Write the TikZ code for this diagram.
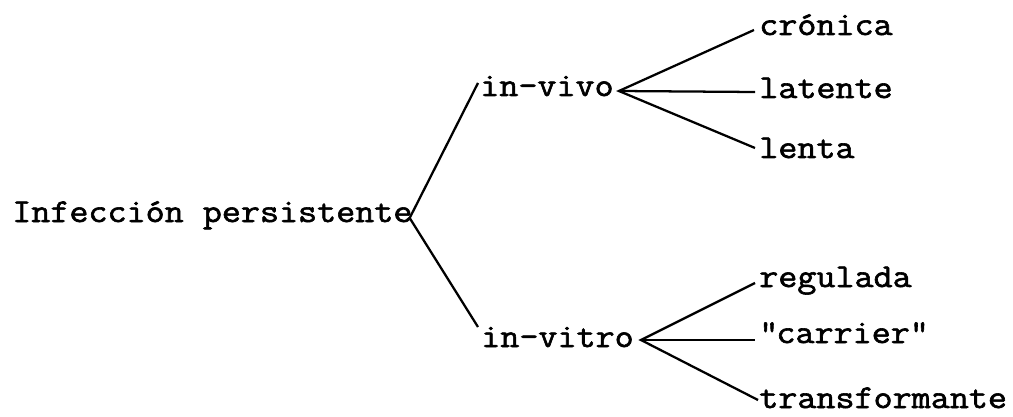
\documentclass[tikz,border=0pt]{standalone}
\usepackage{fontspec}
\newfontfamily\typewr{Latin Modern Mono}[FakeBold=1.8, FakeStretch=1.11]
\usepackage{tikz}
\usetikzlibrary{calc}

\begin{document}
\begin{tikzpicture}[x=0.75pt,y=-0.75pt,
  term/.style={inner sep=0pt, anchor=base west, font=\typewr\fontsize{25}{29}\selectfont},
  branch/.style={line width=1.7pt, line join=miter}]
\useasboundingbox (0,0) rectangle (1013,417);

\node [term] (root) at (12,222) {Infección persistente};
\node [term] (invivo) at (480,96) {in-vivo};
\node [term] (invitro) at (481,347) {in-vitro};

\node [term] (cronica) at (759,35) {crónica};
\node [term] (latente) at (759,98) {latente};
\node [term] (lenta) at (759,158) {lenta};
\node [term] (regulada) at (759,287) {regulada};
\node [term] (carrier) at (759,343) {\textquotedbl carrier\textquotedbl};
\node [term] (transf) at (759,408) {transformante};

\coordinate (rootv) at ($(root.base east)+(-3,-4)$);
\coordinate (vivov) at ($(invivo.base east)+(5,-5)$);
\coordinate (vitrov) at ($(invitro.base east)+(7,-7)$);

\draw[branch] ($(invivo.base west)+(-2,-13)$) -- (rootv) -- ($(invitro.base west)+(-3,-20)$);

\draw[branch] ($(cronica.base west)+(-5,-5)$) -- (vivov) -- ($(lenta.base west)+(-4,-10)$);
\draw[branch] (vivov) -- ($(latente.base west)+(-4,-6)$);

\draw[branch] ($(regulada.base west)+(-4,-4)$) -- (vitrov) -- ($(transf.base west)+(-1,-8)$);
\draw[branch] (vitrov) -- ($(carrier.base west)+(-4,-3)$);
\end{tikzpicture}
\end{document}
